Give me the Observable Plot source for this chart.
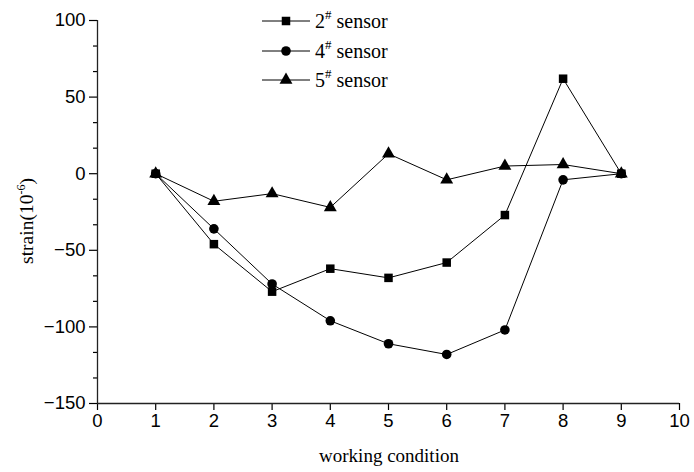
<!DOCTYPE html>
<html>
<head>
<meta charset="utf-8">
<script src="https://cdn.jsdelivr.net/npm/d3@7"></script>
<script src="https://cdn.jsdelivr.net/npm/@observablehq/plot@0.6"></script>
<style>
  html, body { margin: 0; padding: 0; background: #fff; }
  #chart { position: relative; width: 694px; height: 472px; }
</style>
</head>
<body>
<div id="chart"></div>
<script>
// ---- data ----
const conditions = [1, 2, 3, 4, 5, 6, 7, 8, 9];
const sensorNames = ["2", "4", "5"];            // legend: N# sensor
const sensor2 = [0, -46, -77, -62, -68, -58, -27, 62, 0];
const sensor4 = [0, -36, -72, -96, -111, -118, -102, -4, 0];
const sensor5 = [0, -18, -13, -22, 13, -4, 5, 6, 0];
const xTicks = [0, 1, 2, 3, 4, 5, 6, 7, 8, 9, 10];
const yTicks = [-150, -100, -50, 0, 50, 100];
const xTitle = "working condition";
const yTitle = ["strain(10", "-6", ")"];

// ---- build table ----
const seriesValues = [sensor2, sensor4, sensor5];
const rows = [];
sensorNames.forEach((name, i) => {
  conditions.forEach((c, j) => rows.push({series: name, x: c, y: seriesValues[i][j]}));
});
const yMinor = [];
for (let i = 0; i < yTicks.length - 1; i++) {
  const a = yTicks[i], b = yTicks[i + 1];
  yMinor.push(a + (b - a) / 3, a + 2 * (b - a) / 3);
}
const symbols = ["square", "circle", "triangle"];

const plot = Plot.plot({
  width: 694,
  height: 472,
  marginLeft: 97,
  marginRight: 15,
  marginTop: 20,
  marginBottom: 69,
  x: {domain: [0, 10]},
  y: {domain: [-150, 100]},
  symbol: {domain: sensorNames, range: symbols},
  style: {fontFamily: "'Liberation Sans', Arial, sans-serif", fontSize: "18.5px", color: "#000", background: "#fff", overflow: "visible"},
  marks: [
    Plot.axisX({ticks: xTicks, tickSize: 7, tickPadding: 3, label: null, fontSize: 18.5, strokeWidth: 1.2}),
    Plot.axisY({ticks: yTicks, tickSize: 8, tickPadding: 4, label: null, fontSize: 18.5, strokeWidth: 1.2}),
    Plot.axisY({ticks: yMinor, tickSize: 4, tickFormat: () => "", label: null, strokeWidth: 1.2}),
    Plot.ruleX([0], {stroke: "#222", strokeWidth: 1.3}),
    Plot.ruleY([-150], {stroke: "#222", strokeWidth: 1.3}),
    Plot.line(rows, {x: "x", y: "y", z: "series", stroke: "#000", strokeWidth: 1}),
    Plot.dot(rows, {x: "x", y: "y", symbol: "series", fill: "#000", stroke: null, r: 4.8})
  ]
});
document.getElementById("chart").appendChild(plot);

// ---- titles and legend (text + legend glyphs) ----
const svg = d3.select(plot);
const serif = "'Liberation Serif', 'Times New Roman', serif";

svg.append("text")
  .attr("x", 389).attr("y", 462)
  .attr("text-anchor", "middle")
  .attr("font-family", serif).attr("font-size", 19).attr("fill", "#000")
  .text(xTitle);

const yt = svg.append("text")
  .attr("transform", "translate(33,221) rotate(-90)")
  .attr("text-anchor", "middle")
  .attr("font-family", serif).attr("font-size", 19.5).attr("fill", "#000");
yt.append("tspan").text(yTitle[0]);
yt.append("tspan").attr("dy", -8).attr("font-size", 12).text(yTitle[1]);
yt.append("tspan").attr("dy", 8).text(yTitle[2]);

const legendRows = [21, 51, 80];
const symMap = {square: d3.symbolSquare, circle: d3.symbolCircle, triangle: d3.symbolTriangle};
const area = Math.PI * 4.8 * 4.8;
sensorNames.forEach((name, i) => {
  const g = svg.append("g").attr("transform", `translate(0,${legendRows[i]})`);
  g.append("line").attr("x1", 262).attr("x2", 310).attr("y1", 0).attr("y2", 0)
    .attr("stroke", "#000").attr("stroke-width", 1);
  g.append("path").attr("transform", "translate(286,0)")
    .attr("d", d3.symbol(symMap[symbols[i]], area)()).attr("fill", "#000");
  const t = g.append("text").attr("x", 315).attr("y", 7)
    .attr("text-anchor", "start")
    .attr("font-family", serif).attr("font-size", 20).attr("fill", "#000");
  t.append("tspan").text(name);
  t.append("tspan").attr("dy", -9).attr("font-size", 13).text("#");
  t.append("tspan").attr("dy", 9).text(" sensor");
});
</script>
</body>
</html>
